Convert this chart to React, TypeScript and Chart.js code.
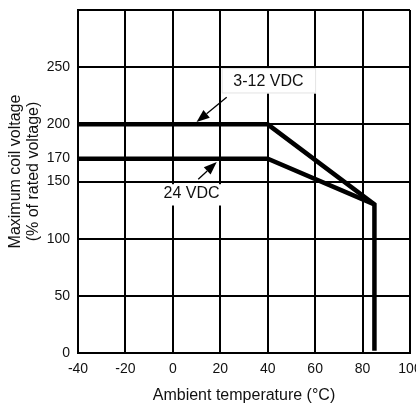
import React, { useEffect, useRef } from 'react';
import { Chart, registerables } from 'chart.js';

Chart.register(...registerables);

// ---- data ----
const xTickValues = [-40, -20, 0, 20, 40, 60, 80, 100];
const yTickValues = [0, 50, 100, 150, 170, 200, 250, 300];
const yHiddenLabels = [300];
const yHiddenGrid = [170];
const highTemps = [-40, 40, 85, 85];
const highVolts = [200, 200, 130, 2];
const lowTemps = [-40, 40, 85];
const lowVolts = [170, 170, 130];
const labelHigh = '3-12 VDC';
const labelLow = '24 VDC';
const xTitle = 'Ambient temperature (°C)';
const yTitle = ['Maximum coil voltage', '(% of rated voltage)'];

const TICK_FONT = "'Liberation Sans Narrow', 'Liberation Sans', Arial, sans-serif";
const FONT = "'Liberation Sans', Arial, sans-serif";

const annotationPlugin = {
  id: 'annotations',
  afterDatasetsDraw(chart: any) {
    const { ctx, scales } = chart;
    const x = scales.x, y = scales.y;
    const px = (v: number) => x.getPixelForValue(v);
    const py = (v: number) => y.getPixelForValue(v);
    ctx.save();
    const boxes = [
      { x0: 20.6, x1: 60.4, y0: 250, y1: 227, text: labelHigh, tx: 40.3, ty: 237.6, edge: '#e4e4e4' },
      { x0: -6.3, x1: 21.1, y0: 148.5, y1: 129, text: labelLow, tx: 7.9, ty: 139.5, edge: '' },
    ];
    for (const b of boxes) {
      const l = px(b.x0), r = px(b.x1), t = py(b.y0) + 1, bt = py(b.y1);
      ctx.fillStyle = '#ffffff';
      ctx.fillRect(l, t, r - l, bt - t);
      if (b.edge) {
        ctx.strokeStyle = b.edge;
        ctx.lineWidth = 1;
        ctx.strokeRect(l + 0.5, t + 0.5, r - l - 1, bt - t - 1);
      }
      ctx.fillStyle = '#111';
      ctx.font = `16px ${FONT}`;
      ctx.textAlign = 'center';
      ctx.textBaseline = 'middle';
      ctx.fillText(b.text, px(b.tx), py(b.ty));
    }
    const arrows = [
      { fx: 22.7, fy: 223.6, tx: 10, ty: 202 },
      { fx: 10.7, fy: 152, tx: 18.5, ty: 167 },
    ];
    for (const a of arrows) {
      const x1 = px(a.fx), y1 = py(a.fy), x2 = px(a.tx), y2 = py(a.ty);
      const ang = Math.atan2(y2 - y1, x2 - x1);
      const len = 13, half = 5;
      const bx = x2 - len * Math.cos(ang), by = y2 - len * Math.sin(ang);
      ctx.strokeStyle = '#000';
      ctx.lineWidth = 1.3;
      ctx.beginPath();
      ctx.moveTo(x1, y1);
      ctx.lineTo(bx, by);
      ctx.stroke();
      ctx.fillStyle = '#000';
      ctx.beginPath();
      ctx.moveTo(x2, y2);
      ctx.lineTo(bx + half * Math.sin(ang), by - half * Math.cos(ang));
      ctx.lineTo(bx - half * Math.sin(ang), by + half * Math.cos(ang));
      ctx.closePath();
      ctx.fill();
    }
    ctx.restore();
  },
  afterDraw(chart: any) {
    const { ctx, chartArea } = chart;
    const cy = (chartArea.top + chartArea.bottom) / 2 - 10;
    ctx.save();
    ctx.fillStyle = '#111';
    ctx.font = `16px ${FONT}`;
    ctx.textAlign = 'center';
    ctx.textBaseline = 'middle';
    const xs = [15.5, 34];
    yTitle.forEach((line, i) => {
      ctx.save();
      ctx.translate(xs[i], cy);
      ctx.rotate(-Math.PI / 2);
      ctx.fillText(line, 0, 0);
      ctx.restore();
    });
    ctx.restore();
  },
};

export default function App() {
  const ref = useRef<HTMLCanvasElement | null>(null);
  useEffect(() => {
    if (!ref.current) return;
    const chart = new Chart(ref.current, {
      type: 'line',
      data: {
        datasets: [
          {
            label: labelHigh,
            data: highTemps.map((t, i) => ({ x: t, y: highVolts[i] })),
            borderColor: '#000',
            borderWidth: 4.5,
            pointRadius: 0,
            fill: false,
            tension: 0,
            borderJoinStyle: 'miter',
          },
          {
            label: labelLow,
            data: lowTemps.map((t, i) => ({ x: t, y: lowVolts[i] })),
            borderColor: '#000',
            borderWidth: 4.5,
            pointRadius: 0,
            fill: false,
            tension: 0,
            borderJoinStyle: 'miter',
          },
        ],
      },
      options: {
        responsive: false,
        animation: false,
        events: [],
        layout: { padding: { left: 0, top: 10, right: 6, bottom: 0 } },
        plugins: { legend: { display: false }, tooltip: { enabled: false } },
        scales: {
          x: {
            type: 'linear',
            min: -40,
            max: 100,
            afterBuildTicks: (s: any) => {
              s.ticks = xTickValues.map((v) => ({ value: v }));
            },
            afterFit: (s: any) => {
              s.height = 55;
              s.paddingLeft = 0;
              s.paddingRight = 0;
            },
            grid: { color: '#000', lineWidth: 2, drawTicks: false },
            border: { color: '#000', width: 2 },
            ticks: {
              color: '#111',
              padding: 8,
              maxRotation: 0,
              autoSkip: false,
              font: { family: TICK_FONT, size: 14 },
            },
            title: {
              display: true,
              text: xTitle,
              color: '#111',
              font: { family: FONT, size: 16 },
              padding: { top: 0, bottom: 3 },
            },
          },
          y: {
            type: 'linear',
            min: 0,
            max: 300,
            afterBuildTicks: (s: any) => {
              s.ticks = yTickValues.map((v) => ({ value: v }));
            },
            afterFit: (s: any) => {
              s.width = 78;
              s.paddingTop = 0;
              s.paddingBottom = 0;
            },
            grid: {
              color: (c: any) => (yHiddenGrid.includes(c.tick?.value) ? 'rgba(0,0,0,0)' : '#000'),
              lineWidth: 2,
              drawTicks: false,
            },
            border: { color: '#000', width: 2 },
            ticks: {
              color: '#111',
              padding: 8,
              autoSkip: false,
              font: { family: TICK_FONT, size: 14 },
              callback: (v: any) => (yHiddenLabels.includes(Number(v)) ? '' : String(v)),
            },
          },
        },
      },
      plugins: [annotationPlugin],
    } as any);
    return () => chart.destroy();
  }, []);
  return (
    <div style={{ position: 'absolute', left: 0, top: 0, width: 416, height: 408, background: '#fff' }}>
      <canvas ref={ref} width={416} height={408} style={{ display: 'block' }} />
    </div>
  );
}
